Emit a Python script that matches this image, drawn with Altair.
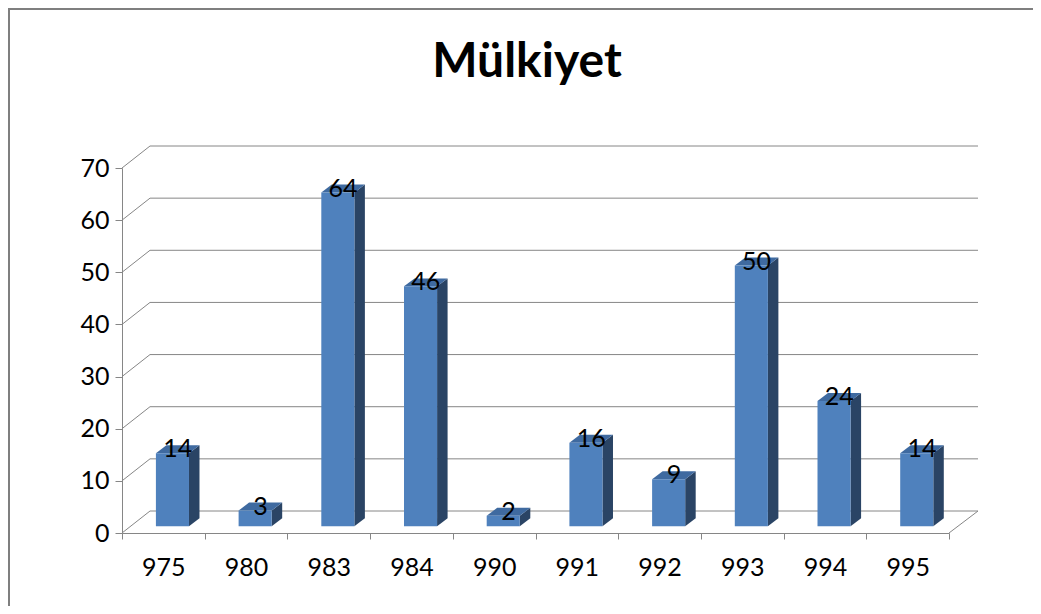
import altair as alt
import pandas as pd

categories = ["975", "980", "983", "984", "990", "991", "992", "993", "994", "995"]
values = [14, 3, 64, 46, 2, 16, 9, 50, 24, 14]
y_ticks = [0, 10, 20, 30, 40, 50, 60, 70]
title_text = "Mülkiyet"

W, H = 827, 365
FONT = "Lato"
GRID = "#868686"
FRONT = "#4F81BD"
TOP = "#3F6AA0"
SIDE = "#2A4465"

df = pd.DataFrame({"cat": categories, "val": values, "idx": list(range(len(categories)))})
grid_df = pd.DataFrame({"v": y_ticks})
floor_df = pd.DataFrame({"v": [y_ticks[0]]})

# 3D geometry (in data units of the category index / value scales)
XL, XR = 0.41, 0.81      # front face within category band
DX, DY = 0.127, 1.53     # depth of bars
B = 1.3                  # bars stand mid-depth on the floor

xscale = alt.Scale(domain=[0, len(categories)], nice=False, zero=False)
yscale = alt.Scale(domain=[0, 70], nice=False)
yaxis = alt.Axis(
    title=None, orient="left", values=y_ticks, tickSize=7, labelPadding=6,
    labelFont=FONT, labelFontSize=25, labelColor="black",
    domainColor=GRID, tickColor=GRID, grid=False,
)


def xq(f):
    return alt.X(f, type="quantitative", scale=xscale, axis=None)


def yq(f):
    return alt.Y(f, type="quantitative", scale=yscale, axis=yaxis)


border_left = alt.Chart(floor_df).mark_rule(color="#7f7f7f", strokeWidth=2).encode(
    x=alt.value(-113), x2=alt.value(-113), y=alt.value(-160), y2=alt.value(H + 73)
)
border_top = alt.Chart(floor_df).mark_rule(color="#7f7f7f", strokeWidth=2).encode(
    x=alt.value(-114), x2=alt.value(W + 84), y=alt.value(-159), y2=alt.value(-159)
)

title = alt.Chart(floor_df).mark_text(
    text=title_text, font=FONT, fontSize=48, fontWeight="bold", color="black",
    align="center", baseline="alphabetic",
).encode(x=alt.value(405), y=alt.value(-91))

back_grid = alt.Chart(grid_df).mark_rule(color=GRID, strokeWidth=1, yOffset=-22, y2Offset=-22).encode(
    x=alt.value(28), x2=alt.value(W + 29), y=yq("v"), y2="v"
)
left_diag = alt.Chart(grid_df).mark_rule(color=GRID, strokeWidth=1, y2Offset=-22).encode(
    x=alt.value(0), x2=alt.value(28), y=yq("v"), y2="v"
)
right_diag = alt.Chart(floor_df).mark_rule(color=GRID, strokeWidth=1, y2Offset=-22).encode(
    x=alt.value(W), x2=alt.value(W + 29), y=yq("v"), y2="v"
)

axis_layer = alt.Chart(df).mark_point(opacity=0).encode(
    x=alt.X(
        "cat:N",
        sort=categories,
        scale=alt.Scale(type="band", paddingInner=0, paddingOuter=0),
        axis=alt.Axis(
            title=None, labelAngle=0, tickBand="extent", tickSize=6, labelPadding=16,
            labelFont=FONT, labelFontSize=25, labelColor="black",
            domainColor=GRID, tickColor=GRID, grid=False,
        ),
    ),
    y=yq("val"),
)

side = (
    alt.Chart(df)
    .transform_calculate(k="[0, 1]")
    .transform_flatten(["k"])
    .transform_calculate(
        sx=f"datum.idx + {XR} + datum.k * {DX}",
        sy=f"datum.val + {B} + datum.k * {DY}",
        sy2=f"{B} + datum.k * {DY}",
    )
    .mark_area(color=SIDE, orient="vertical", interpolate="linear")
    .encode(x=xq("sx"), y=yq("sy"), y2="sy2", detail="cat:N")
)

top = (
    alt.Chart(df)
    .transform_calculate(k="[0, 1, 2, 3]")
    .transform_flatten(["k"])
    .transform_calculate(
        tx=f"datum.idx + {XL} + ((datum.k == 1 || datum.k == 3) ? {DX} : 0) + (datum.k >= 2 ? {XR - XL} : 0)",
        ty=f"datum.val + {B} + (datum.k >= 1 ? {DY} : 0)",
        ty2=f"datum.val + {B} + (datum.k == 3 ? {DY} : 0)",
    )
    .mark_area(color=TOP, orient="vertical", interpolate="linear")
    .encode(x=xq("tx"), y=yq("ty"), y2="ty2", detail="cat:N")
)

front = (
    alt.Chart(df)
    .transform_calculate(
        fx1=f"datum.idx + {XL}",
        fx2=f"datum.idx + {XR}",
        fy1=f"datum.val + {B}",
        fy2=f"{B}",
    )
    .mark_rect(color=FRONT)
    .encode(x=xq("fx1"), x2="fx2", y=yq("fy1"), y2="fy2")
)

labels = (
    alt.Chart(df)
    .transform_calculate(
        lx=f"datum.idx + {(XL + XR) / 2 + DX / 2}",
        ly=f"datum.val + {B}",
    )
    .mark_text(font=FONT, fontSize=25, color="black", align="center", baseline="alphabetic", dy=4)
    .encode(x=xq("lx"), y=yq("ly"), text="val:Q")
)

chart = (
    alt.layer(border_left, border_top, title, back_grid, left_diag, right_diag, axis_layer,
              side, top, front, labels)
    .resolve_scale(x="independent")
    .properties(
        width=W,
        height=H,
        autosize=alt.AutoSizeParams(type="none"),
        padding={"left": 114, "top": 160, "right": 84, "bottom": 73},
    )
    .configure_view(stroke=None)
)

chart.save("out.html", embed_options={"renderer": "svg", "actions": False})
